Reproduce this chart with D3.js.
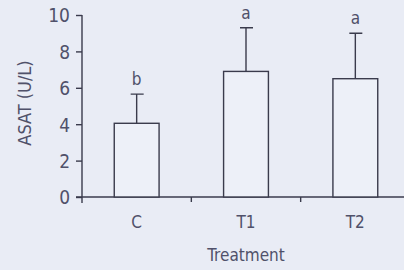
<html>
<head>
  <meta charset="UTF-8">
  <script src="https://d3js.org/d3.v7.min.js"></script>
  <style>
    body { margin: 0; background: #e9ecf5; }
    text { font-family: "DejaVu Sans Condensed", "Liberation Sans Narrow", sans-serif; fill: #50516a; }
  </style>
</head>
<body>
  <svg id="chart" width="404" height="270"></svg>
  <script>
    // data
    const groups = [ "C", "T1", "T2" ];
    const means = [ 4.05, 6.9, 6.5 ];
    const errs = [ 1.6, 2.4, 2.5 ];
    const letters = [ "b", "a", "a" ];
    const yTicks = [ 0, 2, 4, 6, 8, 10 ];

    const ink = "#3a3b4c";
    const svg = d3.select( "#chart" );

    // scales
    const x = d3.scaleBand()
      .domain( groups )
      .range( [ 82, 410 ] )
      .paddingInner( 0.59 )
      .paddingOuter( 0.295 );

    const y = d3.scaleLinear()
      .domain( [ 0, 10 ] )
      .range( [ 197, 15 ] );

    // Y axis
    const yAxis = svg.append( "g" )
      .attr( "transform", "translate(82,0)" )
      .call( d3.axisLeft( y ).tickValues( yTicks ).tickSize( 6 ).tickPadding( 6 ) );
    yAxis.select( ".domain" ).attr( "d", "M0," + y( 10 ) + "V" + ( y( 0 ) + 6 ) );
    yAxis.selectAll( "line, path" ).attr( "stroke", ink ).attr( "stroke-width", 1.4 );
    yAxis.selectAll( "text" ).style( "font-size", "19px" ).attr( "dy", "0.36em" );

    // X axis: baseline with ticks between the bars
    const seps = groups.slice( 1 ).map( g => x( g ) - x.step() * x.paddingInner() / 2 );
    svg.append( "line" )
      .attr( "x1", 76 ).attr( "x2", 404 )
      .attr( "y1", y( 0 ) ).attr( "y2", y( 0 ) )
      .attr( "stroke", ink ).attr( "stroke-width", 1.4 );
    svg.selectAll( ".sep" )
      .data( seps ).enter()
      .append( "line" )
      .attr( "x1", d => d ).attr( "x2", d => d )
      .attr( "y1", y( 0 ) ).attr( "y2", y( 0 ) + 5 )
      .attr( "stroke", ink ).attr( "stroke-width", 1.4 );

    svg.selectAll( ".xlab" )
      .data( groups ).enter()
      .append( "text" )
      .attr( "x", d => x( d ) + x.bandwidth() / 2 )
      .attr( "y", 228 )
      .attr( "text-anchor", "middle" )
      .style( "font-size", "17px" )
      .text( d => d );

    // Bars
    svg.selectAll( ".bar" )
      .data( groups ).enter()
      .append( "rect" )
      .attr( "x", d => x( d ) )
      .attr( "width", x.bandwidth() )
      .attr( "y", ( d, i ) => y( means[ i ] ) )
      .attr( "height", ( d, i ) => y( 0 ) - y( means[ i ] ) )
      .attr( "fill", "#edf0f8" )
      .attr( "stroke", ink ).attr( "stroke-width", 1.4 );

    // Error bars (upper only)
    const cx = d => x( d ) + x.bandwidth() / 2;
    svg.selectAll( ".err" )
      .data( groups ).enter()
      .append( "path" )
      .attr( "d", ( d, i ) => {
        const top = y( means[ i ] + errs[ i ] );
        return "M" + cx( d ) + "," + y( means[ i ] ) + "V" + top +
          "M" + ( cx( d ) - 6 ) + "," + top + "H" + ( cx( d ) + 7 );
      } )
      .attr( "fill", "none" )
      .attr( "stroke", ink ).attr( "stroke-width", 1.4 );

    // significance letters
    svg.selectAll( ".sig" )
      .data( groups ).enter()
      .append( "text" )
      .attr( "x", cx )
      .attr( "y", ( d, i ) => y( means[ i ] + errs[ i ] ) - 9 )
      .attr( "text-anchor", "middle" )
      .style( "font-size", "17px" )
      .text( ( d, i ) => letters[ i ] );

    // axis titles
    svg.append( "text" )
      .attr( "transform", "translate(31,103) rotate(-90)" )
      .attr( "text-anchor", "middle" )
      .style( "font-size", "18px" )
      .text( "ASAT (U/L)" );

    svg.append( "text" )
      .attr( "x", 246 )
      .attr( "y", 261 )
      .attr( "text-anchor", "middle" )
      .style( "font-size", "17px" )
      .text( "Treatment" );
  </script>
</body>
</html>
